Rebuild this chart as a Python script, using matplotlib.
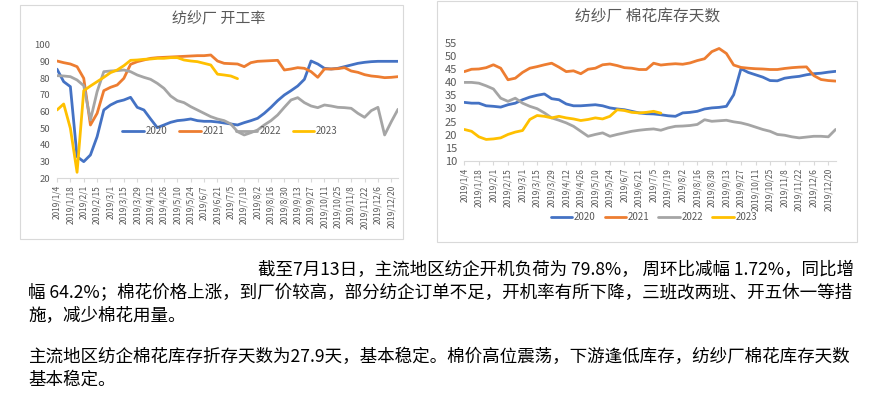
import matplotlib
matplotlib.use("Agg")
import matplotlib.pyplot as plt
from matplotlib.patches import Rectangle
import pandas as pd

plt.rcParams['font.family'] = ['Noto Sans CJK SC', 'DejaVu Sans']

weeks = [f"{d.year}/{d.month}/{d.day}" for d in pd.date_range("2019-01-04", periods=52, freq="7D")]
tick_labels = weeks[::2]

series_names = ["2020", "2021", "2022", "2023"]
colors = ["#4472C4", "#ED7D31", "#A5A5A5", "#FFC000"]

# 开工率
rate_2020 = [85.5, 78, 75, 33, 30, 34, 45, 61, 64, 66, 67, 68.6, 62.6, 61, 55.6, 50.4, 52, 53.6, 54.6, 55,
             55.6, 54.6, 54.2, 54.2, 53.8, 53.2, 52.6, 52, 53.4, 54.6, 56, 59, 62.6, 66.6, 70, 72.6, 75.4, 79.4,
             90.4, 88.6, 86, 85.6, 86, 87, 88, 89, 89.6, 90, 90.2, 90.2, 90.2, 90.2]
rate_2021 = [90.4, 89.4, 88.6, 87, 80, 52, 59, 72.6, 74.6, 76, 80, 88.4, 90, 91, 92, 92.4, 92.6, 92.8, 93, 93.2,
             93.4, 93.6, 93.6, 94, 90.4, 89, 88.8, 88.6, 87, 89.4, 90.2, 90.4, 90.6, 90.8, 85, 85.6, 86.4, 86,
             84, 80.6, 85.6, 85.6, 85.8, 86.4, 84.4, 83.6, 82.2, 81.4, 81, 80.4, 80.6, 81]
rate_2022 = [81.6, 81.4, 81, 79, 75.6, 55, 72, 84, 84.4, 84.6, 85, 84, 82, 80.6, 79.4, 77, 74, 69.4, 66.6, 65.4,
             63, 61, 59, 57, 55.6, 54.6, 52.6, 48, 46, 47.4, 49, 52, 54.6, 58, 62.6, 67, 68.4, 65.4, 63.4, 62.4,
             64, 63.4, 62.6, 62.4, 62, 59, 56.6, 60.6, 62.6, 46, 54, 61.4]
rate_2023 = [61, 64.6, 50, 23.6, 72.6, 75.4, 78, 80.6, 83.4, 85, 87.6, 90.8, 91, 91.4, 91.6, 92, 92, 92.4, 92.4,
             91, 90.4, 90, 89, 88, 82.5, 82, 81.4, 79.8]

# 棉花库存天数
days_2020 = [32.3, 32, 32, 31, 30.8, 30.5, 31.4, 32, 33.3, 34.3, 35, 35.5, 33.7, 33.3, 31.7, 31, 31, 31.2, 31.4,
             31, 30.2, 29.8, 29.5, 28.9, 28.3, 28, 27.9, 27.6, 27.2, 27, 28.3, 28.5, 28.9, 29.8, 30.2, 30.4, 30.8,
             35.2, 45.1, 43.7, 42.8, 41.9, 40.6, 40.5, 41.5, 41.9, 42.2, 42.8, 43.2, 43.4, 43.8, 44.1]
days_2021 = [44, 44.9, 45, 45.5, 46.6, 45.3, 40.9, 41.5, 43.7, 45.3, 45.9, 46.6, 47.2, 45.7, 44, 44.3, 43.2, 44.9,
             45.3, 46.6, 46.9, 46.3, 45.5, 45.3, 44.8, 44.8, 47.2, 46.5, 46.8, 47.0, 46.8, 47.3, 48.2, 48.9, 51.6,
             52.8, 50.9, 46.5, 45.6, 45.3, 45.1, 45.0, 44.8, 44.8, 45.2, 45.5, 45.7, 45.8, 42.5, 41.0, 40.6, 40.4]
days_2022 = [39.9, 39.9, 39.6, 38.6, 37.4, 33.9, 32.7, 33.9, 32, 30.8, 29.9, 28.3, 26.4, 25.5, 24.5, 23.2, 21.3,
             19.4, 20.1, 20.7, 19.4, 20.1, 20.7, 21.3, 21.7, 22, 22.2, 21.7, 22.6, 23.2, 23.3, 23.5, 23.9, 25.7,
             25.1, 25.3, 25.5, 24.9, 24.5, 23.8, 22.9, 22, 21.3, 20.1, 19.8, 19.2, 18.8, 19.1, 19.4, 19.4, 19.2, 22]
days_2023 = [22, 21.3, 19.2, 18.2, 18.4, 18.8, 20.1, 21, 21.6, 25.8, 27.3, 27, 26.4, 27, 26.4, 26, 25.4, 25.8,
             26.4, 26, 27, 29.5, 29.2, 28.5, 28.3, 28.5, 28.9, 28.2]

title_left = "纺纱厂 开工率"
title_right = "纺纱厂 棉花库存天数"

body_lines = [
    "截至7月13日，主流地区纺企开机负荷为 79.8%， 周环比减幅 1.72%，同比增",
    "幅 64.2%；棉花价格上涨，到厂价较高，部分纺企订单不足，开机率有所下降，三班改两班、开五休一等措",
    "施，减少棉花用量。",
    "主流地区纺企棉花库存折存天数为27.9天，基本稳定。棉价高位震荡，下游逢低库存，纺纱厂棉花库存天数",
    "基本稳定。",
]

W, H = 870, 400
fig = plt.figure(figsize=(W / 100, H / 100), dpi=100)
fig.patch.set_facecolor("white")


def fx(x):
    return x / W


def fy(y):
    return 1 - y / H


# panel borders
for (x0, y0, x1, y1) in [(20, 5, 403, 239), (437, 1, 857, 242)]:
    fig.add_artist(Rectangle((fx(x0), fy(y1)), fx(x1) - fx(x0), fy(y0) - fy(y1),
                             transform=fig.transFigure, fill=False, edgecolor="#d9d9d9", lw=0.8))

TXT = "#595959"


def style_axis(ax, ymin, ymax, ystep, ylabsize):
    for s in ["top", "right", "left"]:
        ax.spines[s].set_visible(False)
    ax.spines["bottom"].set_color("#d9d9d9")
    ax.spines["bottom"].set_linewidth(0.8)
    ax.set_xlim(0, 51)
    ax.set_ylim(ymin, ymax)
    ax.set_yticks(list(range(ymin, ymax + 1, ystep)))
    ax.set_xticks(range(0, 52, 2))
    ax.set_xticklabels(tick_labels, rotation=90, fontsize=6.0, color=TXT)
    ax.tick_params(axis="x", length=3, color="#d9d9d9", pad=2)
    ax.tick_params(axis="y", length=0, labelsize=ylabsize, labelcolor=TXT, pad=5)
    ax.patch.set_alpha(0)


# left chart
axL = fig.add_axes([fx(57), fy(178.3), fx(398) - fx(57), fy(45) - fy(178.3)])
for name, vals, c in zip(series_names, [rate_2020, rate_2021, rate_2022, rate_2023], colors):
    axL.plot(range(len(vals)), vals, color=c, lw=2.0, label=name, solid_capstyle="round")
style_axis(axL, 20, 100, 10, 6.8)
fig.text(fx(219), fy(18), title_left, ha="center", va="center", fontsize=10.8, color=TXT)
axL.legend(ncol=4, loc="center", bbox_to_anchor=(fx(230), fy(131)), bbox_transform=fig.transFigure,
           frameon=False, fontsize=7.0, handlelength=2.2, handletextpad=0.2, columnspacing=1.2,
           labelcolor=TXT)

# right chart
axR = fig.add_axes([fx(464.3), fy(161), fx(835.6) - fx(464.3), fy(42.7) - fy(161)])
for name, vals, c in zip(series_names, [days_2020, days_2021, days_2022, days_2023], colors):
    axR.plot(range(len(vals)), vals, color=c, lw=2.0, label=name, solid_capstyle="round")
style_axis(axR, 10, 55, 5, 8)
fig.text(fx(648), fy(17), title_right, ha="center", va="center", fontsize=11.3, color=TXT)
axR.legend(ncol=4, loc="center", bbox_to_anchor=(fx(654), fy(217)), bbox_transform=fig.transFigure,
           frameon=False, fontsize=7.0, handlelength=2.2, handletextpad=0.2, columnspacing=0.9,
           labelcolor=TXT)

# body text
positions = [(258, 270), (28, 293), (28, 316), (28, 357), (28, 380)]
for line, (x, y) in zip(body_lines, positions):
    fig.text(fx(x), fy(y), line, ha="left", va="center", fontsize=12.65, color="black")

fig.savefig("out.png", dpi=100, facecolor="white")
